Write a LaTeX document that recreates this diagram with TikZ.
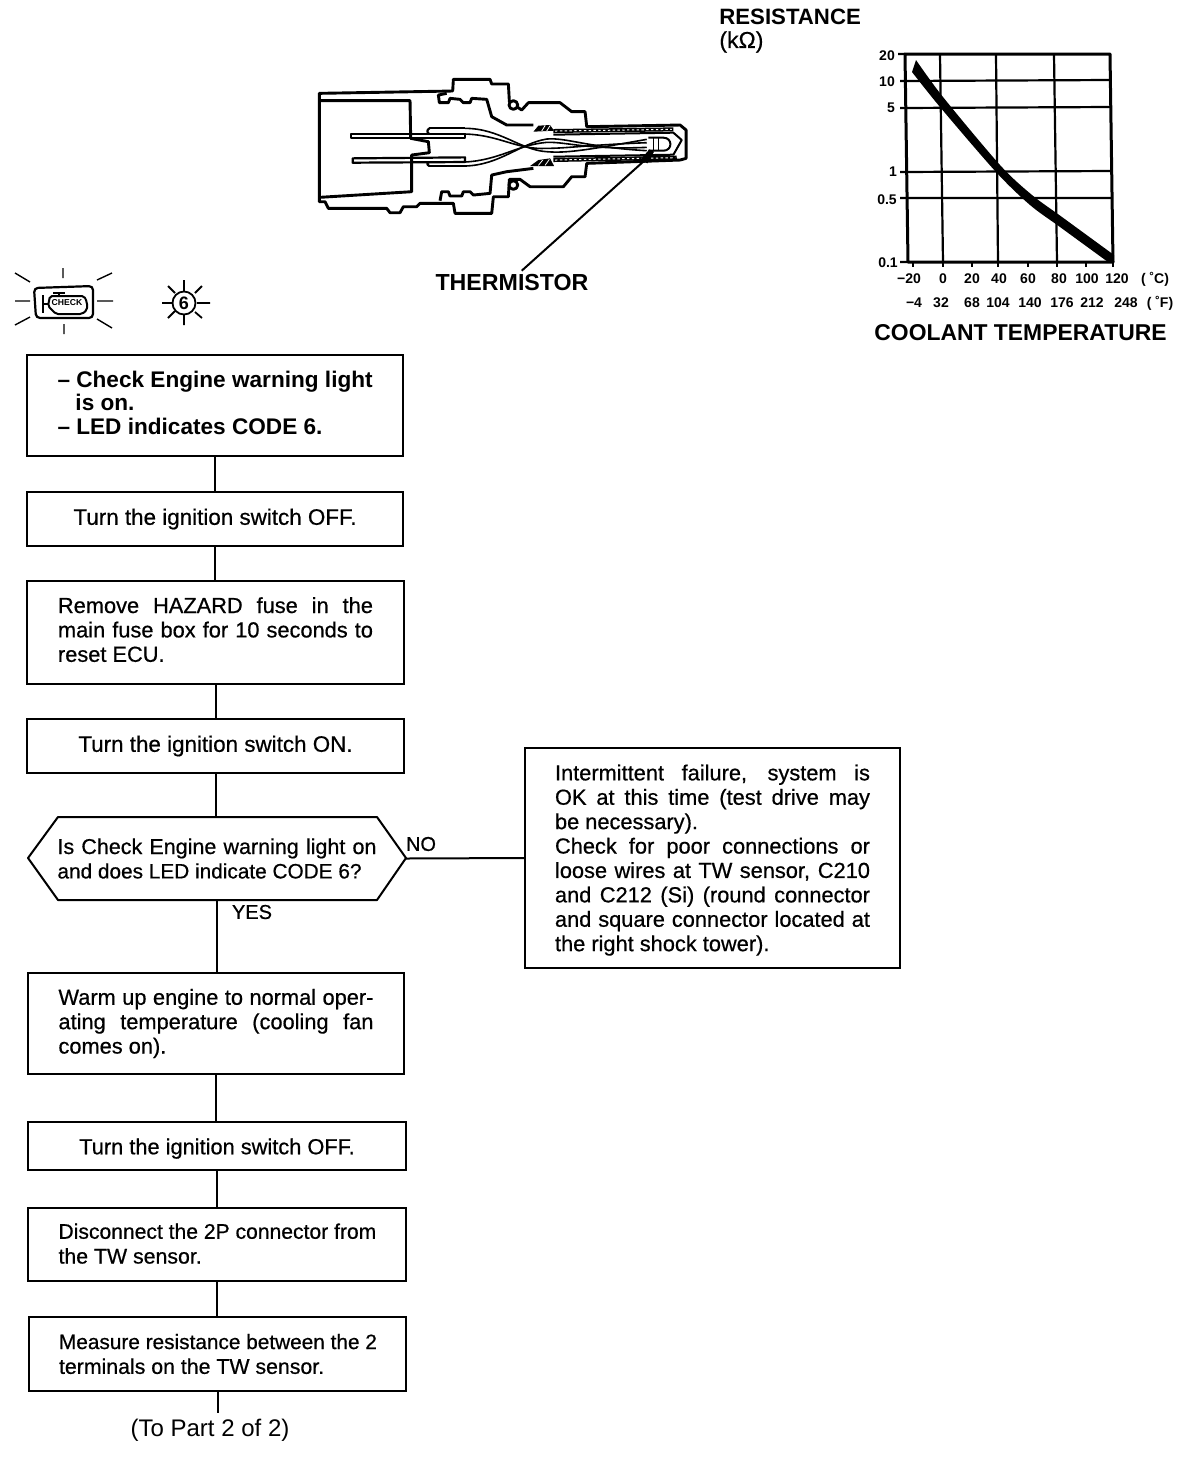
\documentclass[tikz,border=0pt]{standalone}
\usepackage{fontspec}
\setmainfont{Liberation Sans}
\newfontfamily\medf[FakeBold=0.6]{Liberation Sans}
\newcommand{\bodyf}{\medf\fontsize{10.9}{12.2}\selectfont}
\newcommand{\widef}{\medf\fontsize{11.2}{12.2}\selectfont}
\newcommand{\tightf}{\medf\fontsize{10.65}{12.4}\selectfont}
\newcommand{\sz}[1]{\fontsize{#1}{12.4}\selectfont}
\newcommand{\jl}[2][157.5pt]{\makebox[#1][s]{#2}}
\newcommand{\lift}[1]{\rule[-#1]{0pt}{#1}}
\newcommand{\drop}[1]{\rule{0pt}{#1}}
\tikzset{
 fbox/.style={draw,line width=1pt,inner sep=0pt,outer sep=0pt,font=\bodyf,align=left},
 link/.style={line width=1pt},
 part/.style={line width=1.45pt,line join=round},
 wire/.style={line width=.8pt,line join=round},
 grid line/.style={line width=1.1pt},
 frame line/.style={line width=1.5pt,line join=round},
 head/.style={font=\bfseries\fontsize{11.6}{13}\selectfont,inner sep=0pt},
 tick/.style={font=\bfseries\fontsize{7}{8}\selectfont,inner sep=0pt},
 ray/.style={line width=.7pt},
}
\begin{document}
\begin{tikzpicture}[x=0.5pt,y=-0.5pt]
\useasboundingbox (0,0) rectangle (1200,1458);
% --- sensor drawing (coordinates read from a 3x crop)
\begin{scope}[shift={(300,60)},x=0.1667pt,y=-0.1667pt]
 \draw[part] (58,100)--(458,93)--(460,58)--(570,58)--(575,72)--(625,72)--(628,125)--(665,150)--(685,128)--(780,128)--(815,155)--(855,155)--(860,200)--(1140,195)--(1158,210)--(1158,295)--(1140,300)--(860,310)--(855,350)--(815,350)--(790,380)--(690,380)--(660,358)--(628,358)--(625,410)--(580,410)--(575,460)--(465,460)--(460,430)--(360,430)--(350,440)--(310,440)--(300,458)--(270,458)--(260,445)--(85,445)--(75,425)--(58,425)--cycle;
 \draw[part,fill=white] (640,135) circle[radius=13];
 \draw[part,fill=white] (640,375) circle[radius=13];
 \draw[part] (440,100)--(415,105)--(418,128)--(445,128)--(450,115)--(480,118)--(490,128)--(510,128)--(515,115)--(560,118)--(575,170)--(620,195)--(700,195);
 \draw[part] (700,325)--(620,335)--(575,345)--(570,400)--(520,405)--(510,395)--(490,395)--(485,408)--(450,408)--(445,395)--(425,395)--(420,422);
 \draw[part] (58,122)--(330,122)--(332,235)--(385,245)--(388,278)--(335,285)--(335,395)--(58,412);
 \draw[wire,line width=1.1pt] (152,222)--(495,222)--(495,235)--(152,235)--cycle;
 \draw[wire,line width=1.1pt] (158,295)--(495,292)--(495,306)--(158,308)--cycle;
 \draw[wire,line width=1.1pt] (388,205)--(495,205) (388,318)--(495,318);
 \draw[wire,line width=1.1pt] (388,205) .. controls (380,210) and (380,218) .. (388,222) (388,318) .. controls (380,314) and (380,308) .. (388,306);
 \draw[wire] (495,205) .. controls (600,205) and (660,270) .. (740,275) .. controls (800,280) and (860,270) .. (1040,238);
 \draw[wire] (495,222) .. controls (600,225) and (650,270) .. (740,265) .. controls (800,265) and (860,255) .. (1040,248);
 \draw[wire] (495,318) .. controls (600,315) and (660,250) .. (740,237) .. controls (800,232) and (860,262) .. (1040,272);
 \draw[wire] (495,306) .. controls (600,300) and (650,255) .. (740,247) .. controls (800,245) and (860,270) .. (1040,262);
 \fill (700,215)--(715,197)--(750,195)--(762,212)--cycle;
 \fill (690,318)--(715,300)--(750,295)--(762,318)--cycle;
 \draw[white,line width=.4pt] (725,213)--(735,197) (740,213)--(750,197) (715,316)--(728,300) (735,316)--(748,298);
 \draw[line width=2pt] (760,213)--(1120,208) (760,300)--(1130,293);
 \draw[white,line width=.5pt,dash pattern=on 1.2pt off 1.2pt] (765,213)--(1115,208) (765,300)--(1125,293);
 \draw[wire,line width=1pt] (760,224)--(1120,218)--(1145,240)--(1120,284)--(760,290);
 \draw[wire,line width=1pt] (1045,233)--(1090,233) .. controls (1118,233) and (1118,272) .. (1090,272)--(1045,272);
 \draw[wire] (1060,235)--(1060,270) (1075,235)--(1075,270);
 \fill (1020,300)--(1048,268)--(1062,275)--(1042,310)--cycle;
 \coordinate (thermtip) at (1035,300);
 \coordinate (thermfoot) at (665,632);
 \draw[line width=1pt] (thermtip)--(thermfoot);
\end{scope}
\node[head] (therm) at (512,283) {THERMISTOR};
% --- chart
\node[head,anchor=west,font=\bfseries\fontsize{11.1}{13}\selectfont] (res) at (719,16.5) {RESISTANCE};
\node[anchor=west,inner sep=0pt,font=\medf\fontsize{11.5}{12}\selectfont] (kohm) at (719,42) {(kΩ)};
\draw[frame line] (905,54)--(1110,54)--(1113,262)--(908,262)--cycle;
\draw[grid line] (940,54)--(943,262) (996,54)--(998,262) (1054,54)--(1057,262);
\draw[grid line] (900,81)--(1110,80) (900,108)--(1110,107) (900,172)--(1111,171) (900,198)--(1111,198) (900,262)--(908,262) (898,54)--(905,54);
\draw[grid line] (913,262)--(913,267) (943,262)--(943,267) (972,262)--(972,267) (998,262)--(998,267) (1028,262)--(1028,267) (1057,262)--(1057,267) (1086,262)--(1086,267) (1113,262)--(1113,267);
\fill plot[smooth] coordinates {(916,60) (943,97) (1000,165) (1032,195) (1062,217) (1114,255)} -- (1114,262) -- plot[smooth] coordinates {(1108,262) (1060,227) (1030,205) (996,172) (940,107) (912,72)} -- cycle;
\foreach \n/\t/\xx/\yy in {a/20/887/56,b/10/887/82,c/5/891/108,d/1/893/172,e/0.5/887/200,f/0.1/888/263,
  g/−20/909/279,h/0/943/279,i/20/972/279,j/40/999/279,k/60/1028/279,l/80/1059/279,m/100/1087/279,n/120/1117/279,o/( ˚C)/1155/279,
  p/−4/914/303,q/32/941/303,r/68/972/303,s/104/998/303,t/140/1030/303,u/176/1062/303,v/212/1092/303,w/248/1126/303,x/( ˚F)/1160/303}
  \node[tick] (lab\n) at (\xx,\yy) {\t};
\node[head,font=\bfseries\fontsize{11.45}{13}\selectfont] (cool) at (1020.5,333) {COOLANT TEMPERATURE};
% --- warning light icon
\draw[line width=1.1pt,rounded corners=2pt] (34,288)--(93,286)--(93,318)--(36,318)--cycle;
\draw[line width=1pt,rounded corners=1pt] (50,296)--(84,296)--(87,302)--(87,310)--(82,314)--(56,314)--(48,306)--cycle;
\draw[line width=1pt] (53,293)--(65,293) (59,293)--(59,296) (43,295)--(43,313) (43,304)--(48,304);
\node[inner sep=0pt,font=\bfseries\fontsize{4.3}{5}\selectfont] (chk) at (67,303) {CHECK};
\draw[ray] (63,268)--(63,278) (64,324)--(64,334) (15,273)--(30,282) (97,280)--(112,273) (15,301)--(30,301) (97,301)--(113,301) (15,325)--(30,317) (97,319)--(112,328);
\node[circle,draw,line width=.9pt,minimum size=11.5pt,inner sep=0pt] (led) at (184,303) {};
\node[inner sep=0pt,font=\bfseries\fontsize{9}{9}\selectfont] (six) at (184,303) {6};
\draw[ray,line width=.9pt] (184,280)--(184,291) (184,315)--(184,325) (162,303)--(173,303) (197,303)--(210,303) (168,286)--(175,293) (195,293)--(202,286) (168,318)--(175,311) (195,312)--(202,318);
% --- flow chart
\node[fbox,minimum width=188pt,minimum height=50.5pt,font=\bfseries\fontsize{11.3}{11.75}\selectfont] (b1) at (215,405.5)
 {\makebox[157.5pt][l]{– Check Engine warning light}\\\hspace*{9pt}is on.\hspace*{\fill}\\\makebox[157.5pt][l]{– LED indicates CODE 6.}\lift{3pt}};
\node[fbox,minimum width=188pt,minimum height=27pt,font=\widef] (b2) at (215,519) {Turn the ignition switch OFF.};
\node[fbox,minimum width=188.5pt,minimum height=51.5pt] (b3) at (215.5,632.5)
 {\jl{Remove HAZARD fuse in the}\\\jl{main fuse box for 10 seconds to}\\reset ECU.\hspace*{\fill}\lift{3pt}};
\node[fbox,minimum width=188.5pt,minimum height=27pt,font=\widef] (b4) at (215.5,746) {Turn the ignition switch ON.};
\draw[line width=1pt,line join=round] (28,858)--(58,817)--(377,817)--(406,858)--(377,900)--(58,900)--cycle;
\node[inner sep=0pt,outer sep=0pt,minimum width=189pt,minimum height=41.5pt,font=\medf\fontsize{10.75}{12.2}\selectfont,align=left] (b5) at (217,858.5)
 {\jl[159.5pt]{Is Check Engine warning light on}\\\makebox[159.5pt][l]{\sz{10.4}and does LED indicate CODE 6?}};
\node[fbox,minimum width=188pt,minimum height=50.5pt] (b6) at (216,1023.5)
 {\jl{Warm up engine to normal oper-}\\\jl{ating temperature (cooling fan}\\comes on).\hspace*{\fill}\lift{1pt}};
\node[fbox,minimum width=189pt,minimum height=24pt] (b7) at (217,1146) {\drop{10.5pt}Turn the ignition switch OFF.};
\node[fbox,minimum width=189pt,minimum height=36.5pt,font=\tightf] (b8) at (217,1244.5)
 {\makebox[158.5pt][l]{\sz{10.55}Disconnect the 2P connector from}\\the TW sensor.\hspace*{\fill}\lift{1pt}};
\node[fbox,minimum width=188.5pt,minimum height=37pt,font=\tightf] (b9) at (217.5,1354)
 {\makebox[158.5pt][l]{\sz{10.4}Measure resistance between the 2}\\terminals on the TW sensor.\hspace*{\fill}};
\node[fbox,minimum width=187.5pt,minimum height=110pt] (side) at (712.5,858)
 {\drop{10pt}\jl{Intermittent failure, system is}\\\jl{OK at this time (test drive may}\\be necessary).\hspace*{\fill}\\\jl{Check for poor connections or}\\\jl{loose wires at TW sensor, C210}\\\jl{and C212 (Si) (round connector}\\\jl{and square connector located at}\\the right shock tower).\hspace*{\fill}};
\node[inner sep=0pt,font=\medf\fontsize{10}{12}\selectfont] (no) at (421,844) {NO};
\node[inner sep=0pt,font=\medf\fontsize{10}{12}\selectfont] (yes) at (252,912) {YES};
\node[inner sep=0pt,font=\fontsize{12}{13}\selectfont] (topart) at (210,1430) {(To Part 2 of 2)};
\coordinate (endpt) at (217.5,1413);
\foreach \p/\q in {b1/b2,b2/b3,b3/b4,b4/b5,b5/b6,b6/b7,b7/b8,b8/b9} \draw[link] (\p.south)--(\p.south |- \q.north);
\draw[link] (b9.south)--(endpt);
\draw[link] (b5.east)--(side.west);
\end{tikzpicture}
\end{document}
